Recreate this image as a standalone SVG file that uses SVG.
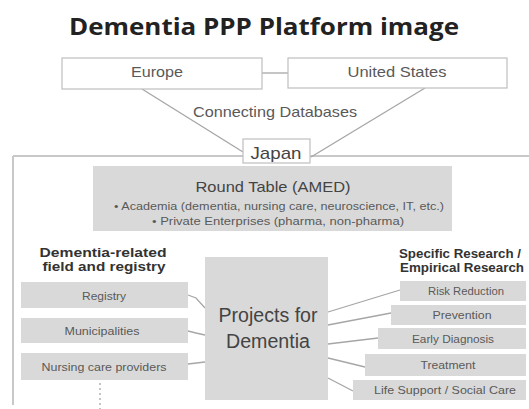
<svg xmlns="http://www.w3.org/2000/svg" width="529" height="409" viewBox="0 0 529 409">
<style>
  .t{font-family:"Liberation Sans",Arial,sans-serif;fill:#595959;text-anchor:middle}
  .hd{font-family:"Liberation Sans",Arial,sans-serif;font-weight:bold;fill:#333;text-anchor:middle;font-size:12px}
  .box{fill:#d9d9d9}
  .wbox{fill:#fff;stroke:#bfbfbf;stroke-width:1.2}
  .ln{stroke:#a6a6a6;stroke-width:1.3;fill:none}
</style>
<rect width="529" height="409" fill="#fff"/>
<text x="264" y="35" font-family="'Open Sans','Liberation Sans',sans-serif" font-weight="bold" font-size="24" fill="#222" text-anchor="middle" textLength="390" lengthAdjust="spacingAndGlyphs">Dementia PPP Platform image</text>

<g id="frame">
  <path d="M13 156 H529 M13 156 V405" stroke="#c8c8c8" stroke-width="2" fill="none"/>
</g>

<g id="connectors">
  <line class="ln" x1="262" y1="73" x2="288" y2="73"/>
  <line class="ln" x1="142" y1="89" x2="243" y2="152"/>
  <line class="ln" x1="425" y1="88" x2="311" y2="157"/>
  <polyline class="ln" points="188,295 196,298 205,308"/>
  <polyline class="ln" points="188,331 196,333 205,335"/>
  <line class="ln" x1="188" y1="364" x2="205" y2="362"/>
  <line class="ln" x1="328" y1="312" x2="400" y2="290"/>
  <line class="ln" x1="328" y1="325" x2="391" y2="313"/>
  <line class="ln" x1="328" y1="344" x2="378" y2="338"/>
  <line class="ln" x1="328" y1="358" x2="365" y2="367"/>
  <line class="ln" x1="328" y1="378" x2="353" y2="391"/>
  <line x1="100" y1="383" x2="100" y2="409" stroke="#a6a6a6" stroke-width="1.3" stroke-dasharray="2,3"/>
</g>

<text class="t" x="275" y="117" font-size="15" textLength="164" lengthAdjust="spacingAndGlyphs">Connecting Databases</text>

<g id="europe">
  <rect class="wbox" x="62" y="58" width="200" height="31"/>
  <text class="t" x="157" y="77" font-size="15" textLength="52" lengthAdjust="spacingAndGlyphs">Europe</text>
</g>
<g id="us">
  <rect class="wbox" x="288" y="58" width="219" height="30"/>
  <text class="t" x="397" y="77" font-size="15" textLength="99" lengthAdjust="spacingAndGlyphs">United States</text>
</g>
<g id="japan">
  <rect class="wbox" x="243" y="139" width="67" height="24"/>
  <text x="276" y="159" font-family="'Liberation Sans',Arial,sans-serif" font-size="17" fill="#444" text-anchor="middle" textLength="51" lengthAdjust="spacingAndGlyphs">Japan</text>
</g>

<g id="roundtable">
  <rect class="box" x="93" y="166" width="359" height="65"/>
  <text x="273" y="192" font-family="'Liberation Sans',Arial,sans-serif" font-size="15" fill="#444" text-anchor="middle" textLength="155" lengthAdjust="spacingAndGlyphs">Round Table (AMED)</text>
  <text class="t" x="279" y="210" font-size="11" textLength="330" lengthAdjust="spacingAndGlyphs">•   Academia (dementia, nursing care, neuroscience, IT, etc.)</text>
  <text class="t" x="278" y="225" font-size="11" textLength="252" lengthAdjust="spacingAndGlyphs">•   Private Enterprises (pharma, non-pharma)</text>
</g>

<g id="left-header">
  <text class="hd" x="103" y="257" textLength="127" lengthAdjust="spacingAndGlyphs">Dementia-related</text>
  <text class="hd" x="104" y="271" textLength="123" lengthAdjust="spacingAndGlyphs">field and registry</text>
</g>
<g id="registry">
  <rect class="box" x="21" y="282" width="167" height="26"/>
  <text class="t" x="104" y="300" font-size="11" textLength="44" lengthAdjust="spacingAndGlyphs">Registry</text>
</g>
<g id="municipalities">
  <rect class="box" x="21" y="318" width="167" height="25"/>
  <text class="t" x="102" y="335" font-size="11" textLength="75" lengthAdjust="spacingAndGlyphs">Municipalities</text>
</g>
<g id="nursing">
  <rect class="box" x="21" y="353" width="167" height="27"/>
  <text class="t" x="104" y="371" font-size="11" textLength="125" lengthAdjust="spacingAndGlyphs">Nursing care providers</text>
</g>

<g id="projects">
  <rect class="box" x="205" y="257" width="123" height="143"/>
  <text x="268" y="322" font-family="'Liberation Sans',Arial,sans-serif" font-size="20" fill="#444" text-anchor="middle" textLength="99" lengthAdjust="spacingAndGlyphs">Projects for</text>
  <text x="268" y="348" font-family="'Liberation Sans',Arial,sans-serif" font-size="20" fill="#444" text-anchor="middle" textLength="84" lengthAdjust="spacingAndGlyphs">Dementia</text>
</g>

<g id="right-header">
  <text class="hd" x="460" y="258" textLength="122" lengthAdjust="spacingAndGlyphs">Specific Research /</text>
  <text class="hd" x="462" y="272" textLength="124" lengthAdjust="spacingAndGlyphs">Empirical Research</text>
</g>
<g id="risk">
  <rect class="box" x="400" y="281" width="126" height="20"/>
  <text class="t" x="466" y="295" font-size="11" textLength="76" lengthAdjust="spacingAndGlyphs">Risk Reduction</text>
</g>
<g id="prevention">
  <rect class="box" x="391" y="305" width="135" height="20"/>
  <text class="t" x="462" y="319" font-size="11" textLength="59" lengthAdjust="spacingAndGlyphs">Prevention</text>
</g>
<g id="early">
  <rect class="box" x="378" y="328" width="148" height="21"/>
  <text class="t" x="453" y="343" font-size="11" textLength="82" lengthAdjust="spacingAndGlyphs">Early Diagnosis</text>
</g>
<g id="treatment">
  <rect class="box" x="365" y="354" width="161" height="22"/>
  <text class="t" x="448" y="369" font-size="11" textLength="55" lengthAdjust="spacingAndGlyphs">Treatment</text>
</g>
<g id="lifesupport">
  <rect class="box" x="353" y="380" width="173" height="20"/>
  <text class="t" x="445" y="394" font-size="11" textLength="142" lengthAdjust="spacingAndGlyphs">Life Support / Social Care</text>
</g>
</svg>
